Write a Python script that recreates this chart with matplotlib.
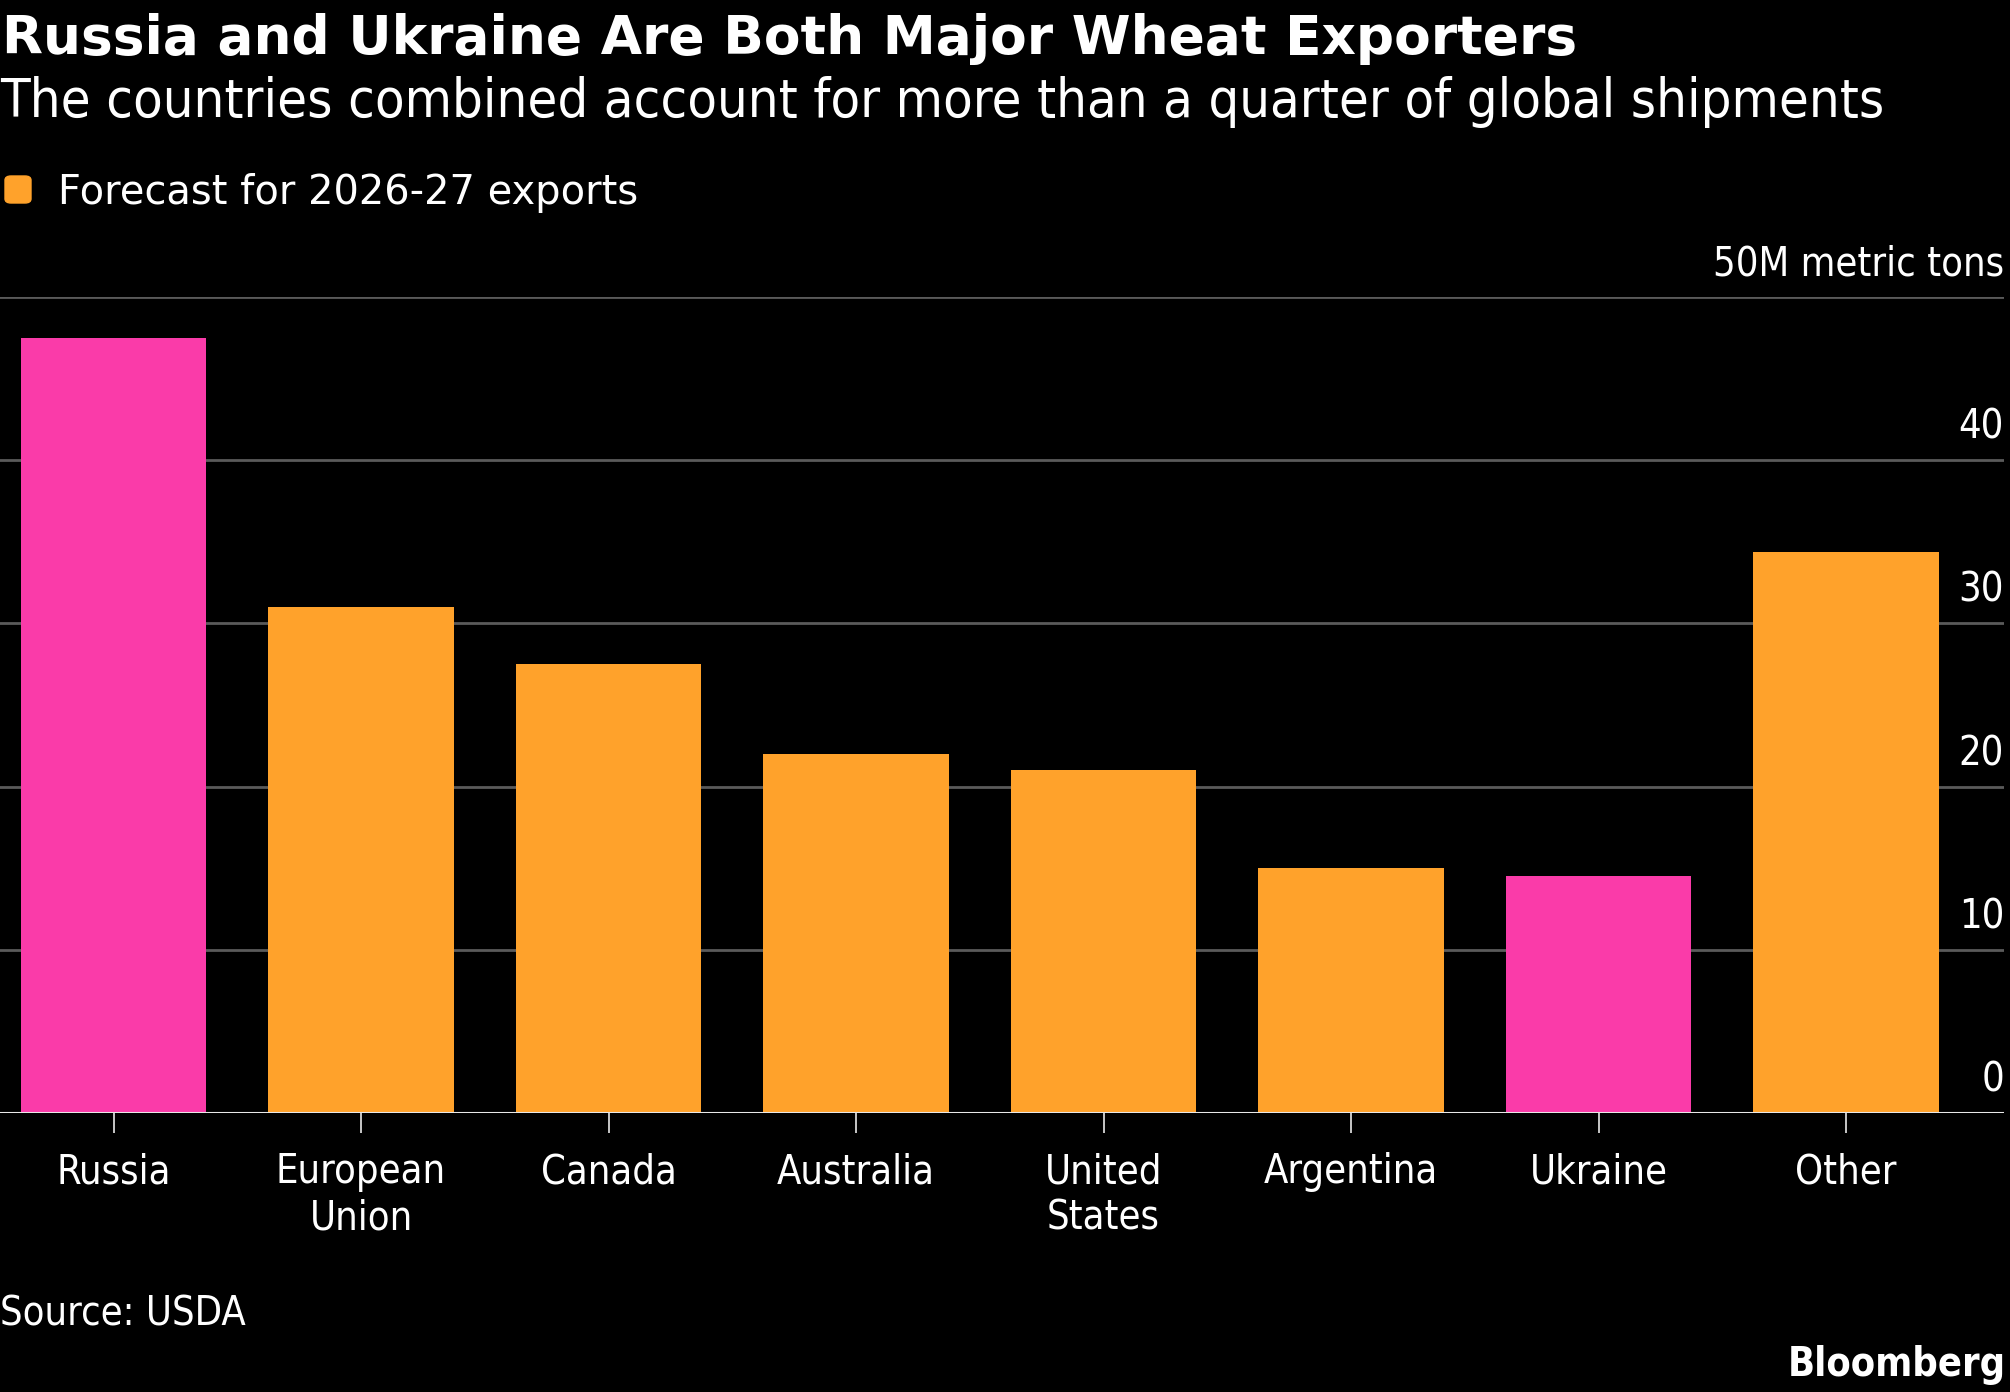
import matplotlib
matplotlib.use('Agg')
import matplotlib.pyplot as plt
from matplotlib import font_manager
from matplotlib.patches import FancyBboxPatch

# USDA forecast for 2026-27 wheat exports, million metric tons
countries = ['Russia', 'European\nUnion', 'Canada', 'Australia', 'United\nStates',
             'Argentina', 'Ukraine', 'Other']
exports = [47.5, 31.0, 27.5, 22.0, 21.0, 15.0, 14.5, 34.4]
highlight = ['Russia', 'Ukraine']
y_ticks = [0, 10, 20, 30, 40, 50]
y_labels = ['0', '10', '20', '30', '40', '50M metric tons']

PINK = '#fa3ba9'
ORANGE = '#ffa22b'
W, H = 2010, 1392

# pick a condensed face for the body text if there is one
names = {f.name for f in font_manager.fontManager.ttflist}
if 'DejaVu Sans Condensed' in names:
    cond = dict(family='DejaVu Sans Condensed')
else:
    cond = dict(family='DejaVu Sans', fontstretch='condensed')

def fy(px):  # pixel row from top -> figure fraction
    return 1 - px / H

fig = plt.figure(figsize=(W / 100, H / 100), dpi=100, facecolor='black')
ax = fig.add_axes([0, fy(1113), 2004 / W, fy(297) - fy(1113)])
ax.set_facecolor('black')

x = list(range(len(countries)))
colors = [PINK if c in highlight else ORANGE for c in countries]
ax.bar(x, exports, width=0.75, color=colors, zorder=3)

ax.set_xlim(-0.4586, 7.638)
ax.set_ylim(0, 50)
for t in y_ticks[1:]:
    ax.axhline(t, color='#5a5a5a', lw=2, zorder=1)
ax.axhline(0, color='#e8e8e8', lw=2.2, zorder=4)
for t, lab in zip(y_ticks, y_labels):
    ax.annotate(lab, xy=(1, t), xycoords=('axes fraction', 'data'), xytext=(0, 15.5),
                textcoords='offset points', ha='right', va='baseline',
                color='white', fontsize=28.5, **cond)

for s in ax.spines.values():
    s.set_visible(False)
ax.set_yticks([])
ax.set_xticks(x)
ax.set_xticklabels(countries, color='white', fontsize=28.5, linespacing=1.2, **cond)
ax.tick_params(axis='x', direction='out', length=14.4, width=1.2, color='#e8e8e8', pad=14)

fig.text(0.001, fy(54), 'Russia and Ukraine Are Both Major Wheat Exporters',
         color='white', fontsize=38.4, fontweight='bold', family='DejaVu Sans', va='baseline')
fig.text(0.0, fy(117), 'The countries combined account for more than a quarter of global shipments',
         color='white', fontsize=39, va='baseline', **cond)

fig.patches.append(FancyBboxPatch((5 / W, fy(203)), 26 / W, 27 / H,
                                  boxstyle='round,pad=0,rounding_size=0.003',
                                  transform=fig.transFigure, color=ORANGE))
fig.text(58 / W, fy(204), 'Forecast for 2026-27 exports', color='white', fontsize=28.8,
         va='baseline', family='DejaVu Sans')

fig.text(0.0, fy(1326), 'Source: USDA', color='white', fontsize=28.5, va='baseline', **cond)
fig.text(2006 / W, fy(1376), 'Bloomberg', color='white', fontsize=28.5, fontweight='bold',
         ha='right', va='baseline', **cond)

fig.savefig('out.png', dpi=100, facecolor='black')
